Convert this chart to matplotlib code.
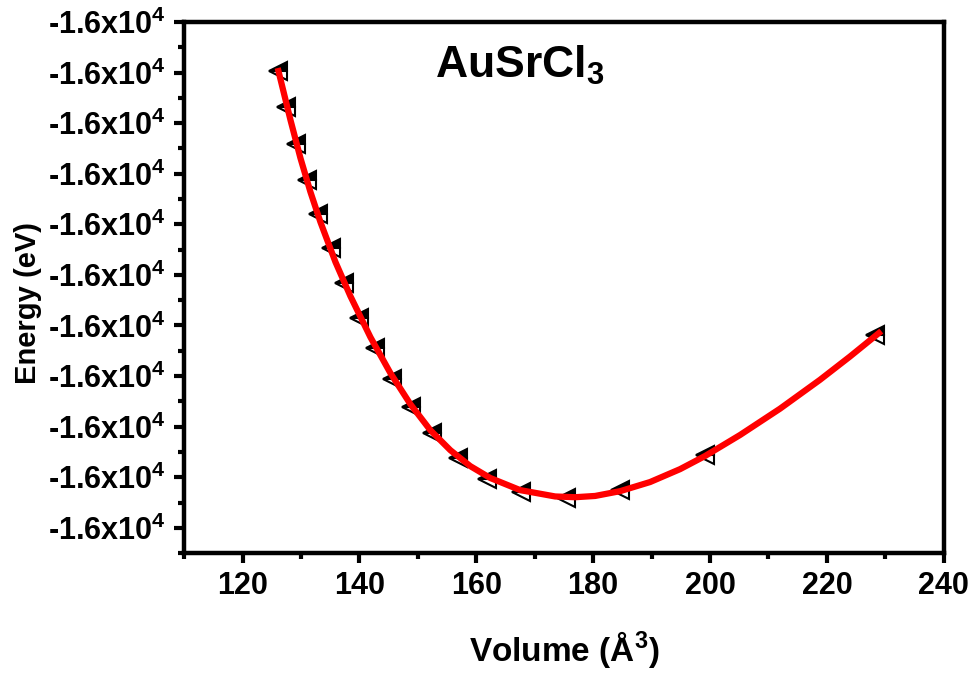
import numpy as np
import matplotlib
matplotlib.use('Agg')
import matplotlib.pyplot as plt
from matplotlib.ticker import MultipleLocator, FuncFormatter


# data points (volume in A^3, energy in eV)
volume = [126.15, 127.52, 129.23, 131.11, 132.99, 135.21, 137.44, 140.00, 142.74,
          145.64, 148.89, 152.48, 156.92, 161.88, 167.69, 175.38, 184.62, 199.15, 228.21]
energy = [-16022.194, -16022.336, -16022.483, -16022.625, -16022.759, -16022.894,
          -16023.032, -16023.171, -16023.289, -16023.412, -16023.523, -16023.625,
          -16023.724, -16023.807, -16023.859, -16023.883, -16023.851, -16023.713,
          -16023.238]

# fitted curve
fit_volume = [126.15, 128.21, 129.91, 131.62, 133.33, 135.90, 138.46, 141.88, 145.30,
              148.72, 152.14, 155.56, 158.97, 162.39, 167.52, 173.50, 176.92, 180.34,
              184.62, 189.74, 194.87, 199.15, 205.13, 211.97, 218.80, 223.93, 228.89]
fit_energy = [-16022.194, -16022.388, -16022.538, -16022.672, -16022.791, -16022.949,
              -16023.084, -16023.246, -16023.388, -16023.511, -16023.614, -16023.693,
              -16023.756, -16023.803, -16023.851, -16023.876, -16023.879, -16023.874,
              -16023.855, -16023.819, -16023.768, -16023.716, -16023.633, -16023.529,
              -16023.415, -16023.323, -16023.230]

plt.rcParams['font.family'] = ['Liberation Sans', 'DejaVu Sans']
plt.rcParams['font.weight'] = 'bold'
plt.rcParams['mathtext.fontset'] = 'custom'
plt.rcParams['mathtext.rm'] = 'Liberation Sans:bold'
plt.rcParams['mathtext.bf'] = 'Liberation Sans:bold'
plt.rcParams['mathtext.it'] = 'Liberation Sans:bold'

fig = plt.figure(figsize=(9.74, 6.77), dpi=100)
ax = fig.add_axes([0.189, 0.183, 0.780, 0.7845])

ax.plot(fit_volume, fit_energy, color='red', lw=4.5, zorder=3)
ax.plot(volume, energy, ls='none', marker='<', ms=13.5, fillstyle='top',
        markerfacecolor='black', markerfacecoloralt='white',
        markeredgecolor='black', markeredgewidth=1.5, zorder=2)

ax.set_xlim(110, 240)
ax.set_ylim(-16024.1, -16022.0)
ax.xaxis.set_major_locator(MultipleLocator(20))
ax.xaxis.set_minor_locator(MultipleLocator(10))
ax.yaxis.set_major_locator(MultipleLocator(0.2))
ax.yaxis.set_minor_locator(MultipleLocator(0.1))
ax.yaxis.set_major_formatter(FuncFormatter(lambda v, p: '-1.6x10$^{4}$'))

for s in ax.spines.values():
    s.set_linewidth(3.2)
ax.tick_params(which='major', direction='out', length=7, width=3, labelsize=22, pad=6)
ax.tick_params(which='minor', direction='out', length=4, width=3)
ax.tick_params(top=False, right=False, which='both')

ax.set_xlabel('Volume (Å$^{3}$)', fontsize=24, fontweight='bold', labelpad=20)
ax.set_ylabel('Energy (eV)', fontsize=21, fontweight='bold')
ax.yaxis.set_label_coords(-0.187, 0.471)
ax.text(0.442, 0.919, 'AuSrCl$_{3}$', transform=ax.transAxes, fontsize=32,
        fontweight='bold', ha='center', va='center')

plt.savefig('out.png', dpi=100)
